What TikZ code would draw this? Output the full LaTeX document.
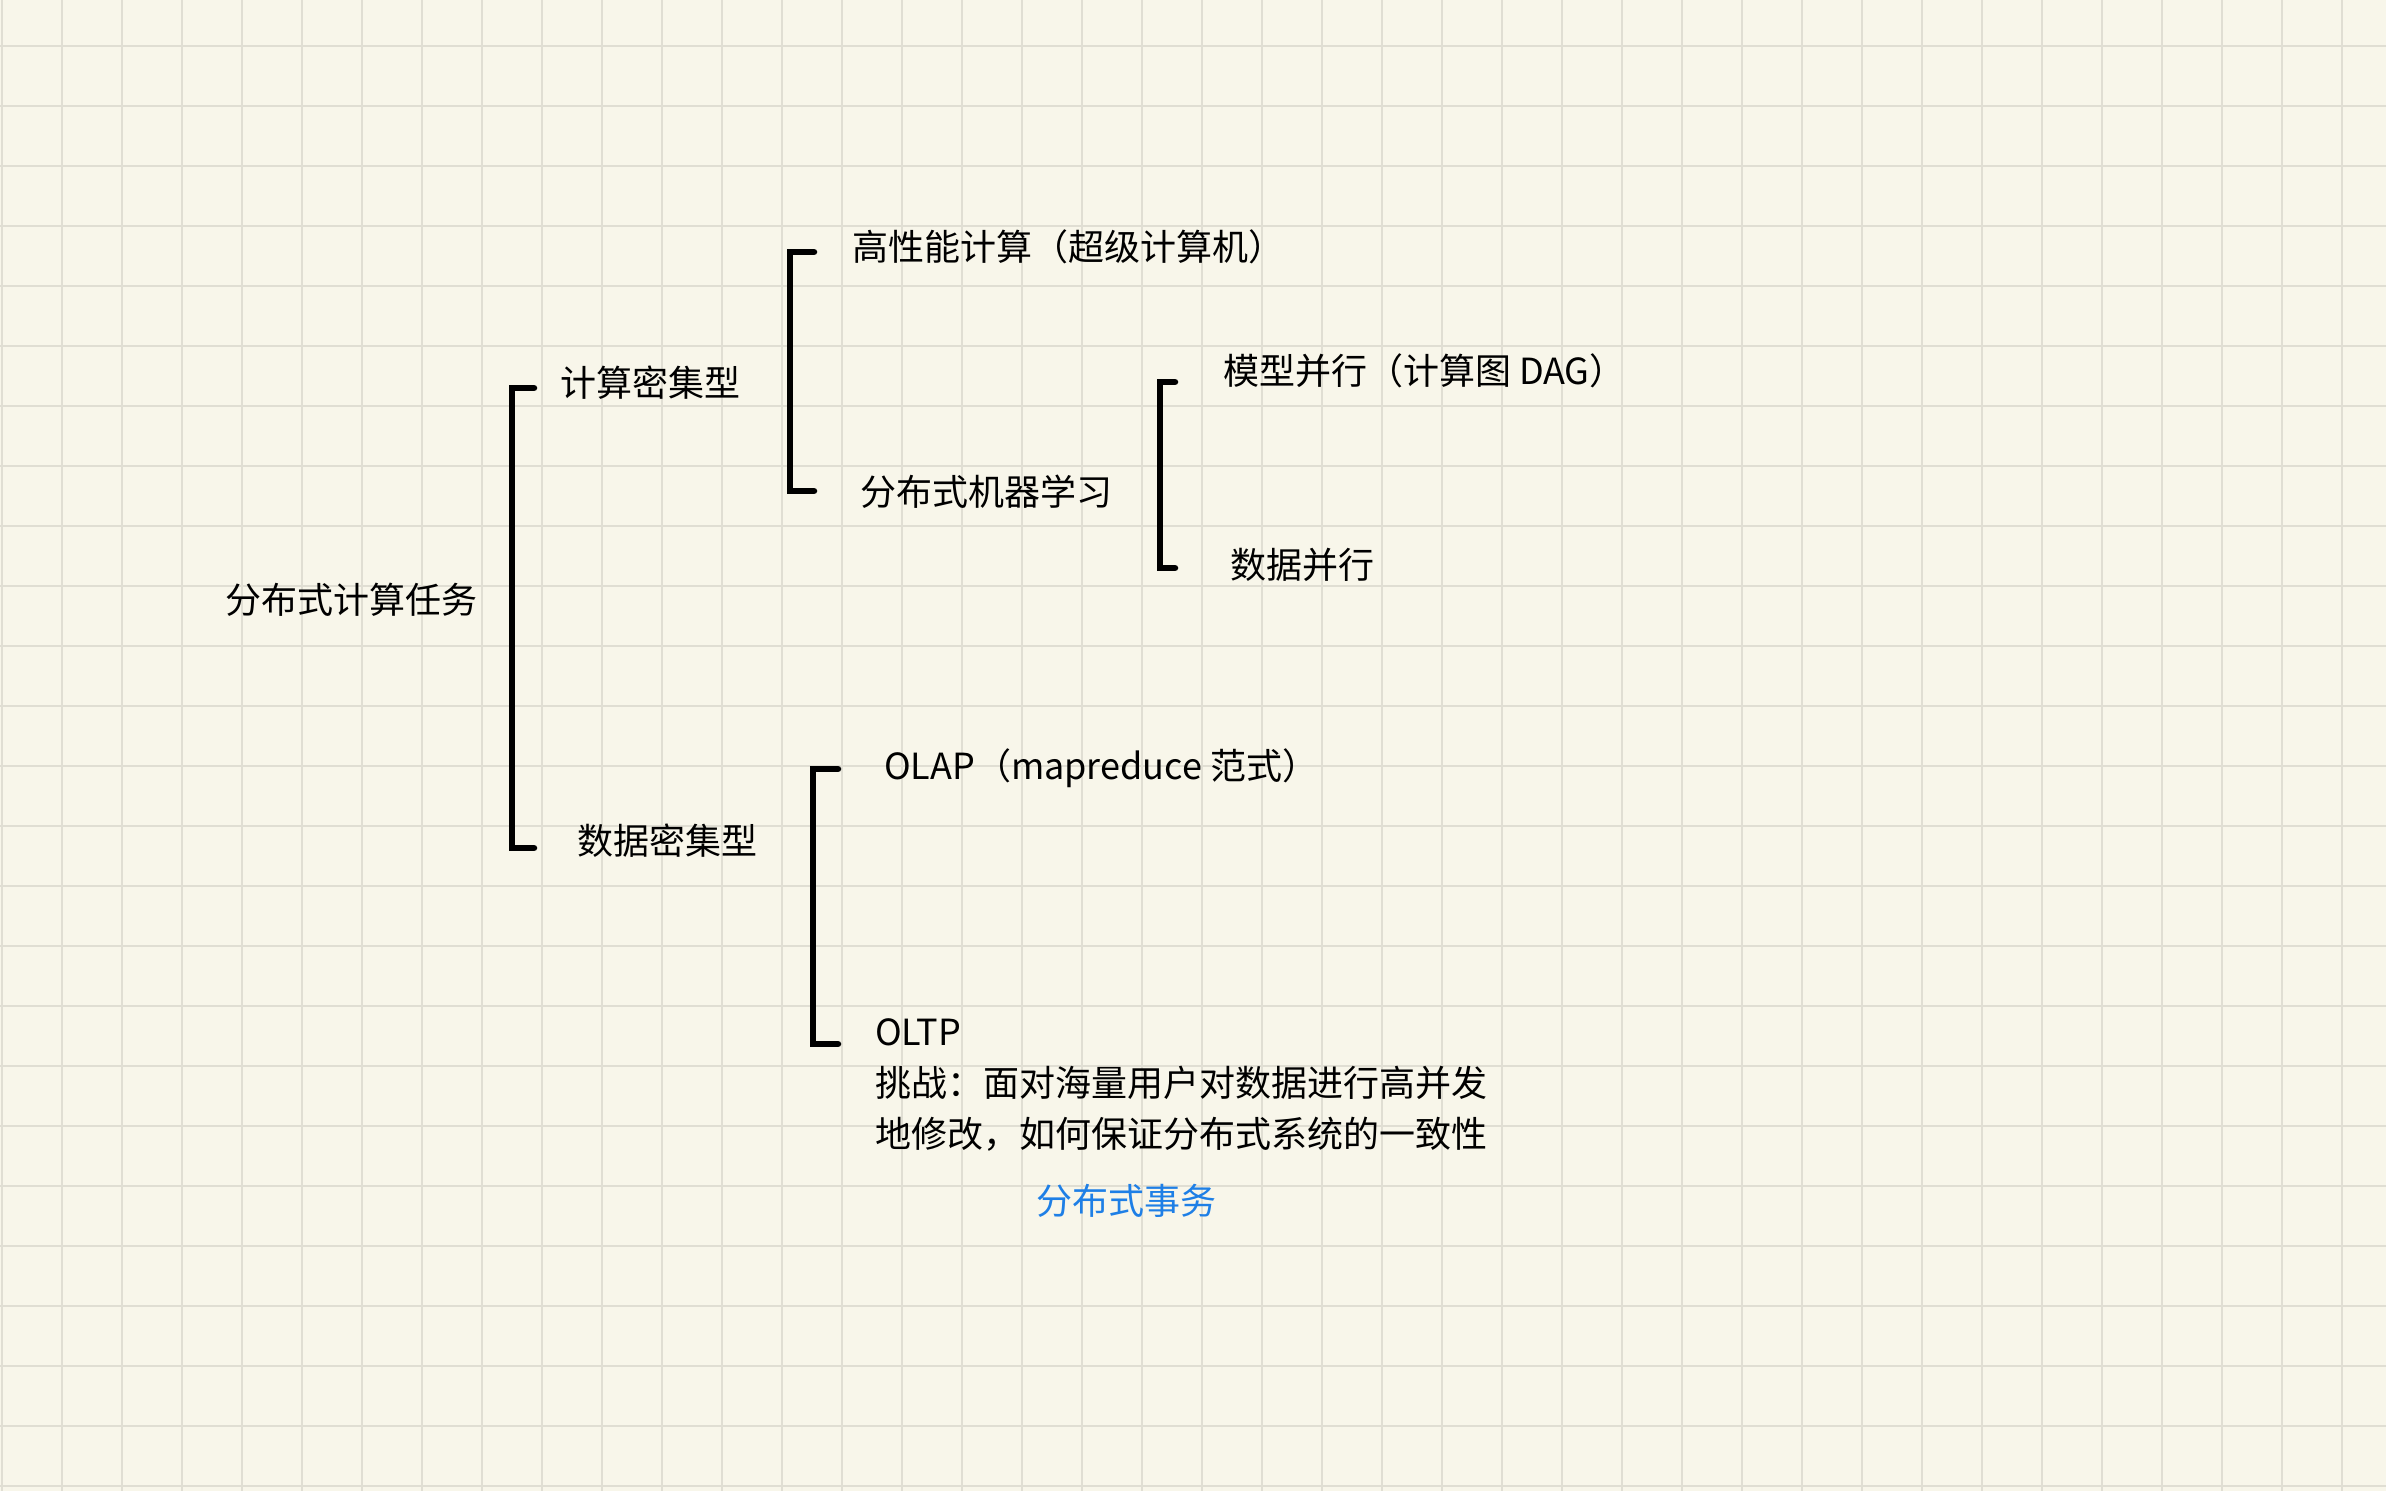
\documentclass[tikz,border=0pt]{standalone}
\usepackage{fontspec}
\setmainfont{Noto Sans CJK SC}
\definecolor{paper}{HTML}{F8F6EA}
\definecolor{gridc}{HTML}{E0DED3}
\definecolor{linkblue}{HTML}{1E7FE6}
\begin{document}
\begin{tikzpicture}[x=1pt,y=-1pt,
  gridline/.style={draw=gridc,line width=2.4pt},
  brk/.style={draw=black,line width=6.5pt,line cap=round,line join=miter},
  lbl/.style={anchor=base west,inner sep=0pt,outer sep=0pt,font=\fontsize{36}{51}\selectfont,text=black},
]
\fill[paper] (0,0) rectangle (2386,1491);
\useasboundingbox (0,0) rectangle (2386,1491);
\foreach \i in {0,...,39} \draw[gridline] (2+60*\i,0) -- (2+60*\i,1491);
\foreach \j in {0,...,24} \draw[gridline] (0,46+60*\j) -- (2386,46+60*\j);

% labels
\node[lbl] (root) at (225,613.5) {分布式计算任务};
\node[lbl] (c1) at (560,396.5) {计算密集型};
\node[lbl] (c2) at (577,854.5) {数据密集型};
\node[lbl] (h1) at (852,260.5) {高性能计算（超级计算机）};
\node[lbl] (h2) at (860,505.5) {分布式机器学习};
\node[lbl] (m1) at (1223,384.5) {模型并行（计算图 DAG）};
\node[lbl] (m2) at (1230,578.5) {数据并行};
\node[lbl] (o1) at (884,779.5) {OLAP（mapreduce 范式）};
\node[lbl,align=left] (o2) at (875,1147) {OLTP\\挑战：面对海量用户对数据进行高并发\\地修改，如何保证分布式系统的一致性};
\node[lbl,text=linkblue] (tx) at (1036,1214.5) {分布式事务};

% bracket corners
\coordinate (aT) at (512,388);  \coordinate (aB) at (512,848);
\coordinate (aTe) at (534,388); \coordinate (aBe) at (534,848);
\coordinate (bT) at (790,252);  \coordinate (bB) at (790,491);
\coordinate (bTe) at (814,252); \coordinate (bBe) at (814,491);
\coordinate (cT) at (1160,382); \coordinate (cB) at (1160,568);
\coordinate (cTe) at (1175,382);\coordinate (cBe) at (1175,568);
\coordinate (dT) at (813,769);  \coordinate (dB) at (813,1044);
\coordinate (dTe) at (838,769); \coordinate (dBe) at (838,1044);

\draw[brk] (aTe) -- (aT) -- (aB) -- (aBe);
\draw[brk] (bTe) -- (bT) -- (bB) -- (bBe);
\draw[brk] (cTe) -- (cT) -- (cB) -- (cBe);
\draw[brk] (dTe) -- (dT) -- (dB) -- (dBe);
\end{tikzpicture}
\end{document}
